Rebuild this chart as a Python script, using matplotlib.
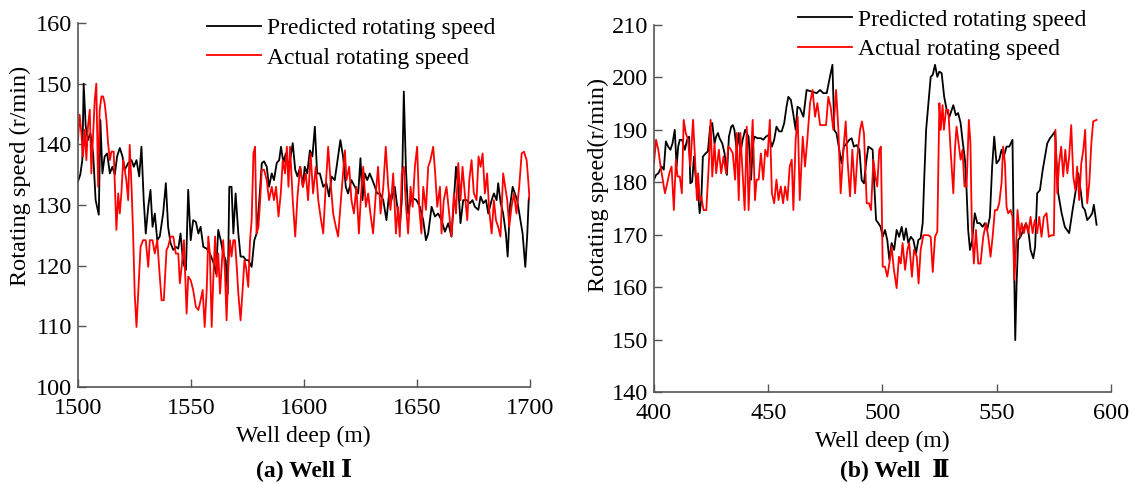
import matplotlib
matplotlib.use("Agg")
import matplotlib.pyplot as plt

plt.rcParams['font.family'] = ['Liberation Serif', 'DejaVu Serif']

# (a) Well I : (depth m, speed r/min)
pred_a = [(1500.0, 133.9), (1501.0, 135), (1501.9, 137.4), (1502.5, 150), (1503.4, 143), (1504.4, 140.7),
          (1505.5, 141.8), (1506.7, 138.5), (1507.8, 130.8), (1509.2, 128.4), (1509.9, 144), (1510.8, 135.2),
          (1511.8, 138), (1512.9, 138.5), (1514.1, 135.2), (1515.2, 136.3), (1516.3, 135), (1517.3, 138),
          (1518.5, 139.4), (1519.7, 138), (1520.7, 135.8), (1522.2, 136.9), (1523.7, 137.4), (1524.7, 136.3),
          (1525.9, 137.4), (1527.1, 134.7), (1528.1, 139.6), (1529.1, 130.8), (1530.0, 125.3), (1531.1, 129.7),
          (1532.1, 132.5), (1533.0, 126.4), (1534.0, 128.6), (1535.1, 124.2), (1536.2, 124.8), (1537.7, 128.6),
          (1538.9, 133.6), (1539.9, 126.4), (1541.0, 123.7), (1542.2, 122.6), (1543.3, 123.1), (1544.4, 122.8),
          (1545.4, 125.3), (1546.6, 120.4), (1547.8, 119.3), (1548.8, 132.5), (1549.9, 124.2), (1551.0, 127.5),
          (1552.2, 127.2), (1553.3, 125.3), (1554.3, 126.4), (1555.5, 123.1), (1557.0, 122.8), (1558.4, 122),
          (1559.9, 120.6), (1561.1, 118.7), (1562.1, 125.9), (1563.2, 124.2), (1564.3, 122), (1565.4, 120.9),
          (1566.3, 115.4), (1567.0, 133), (1568.0, 133), (1568.8, 125.3), (1569.8, 131.9), (1571.0, 125.3),
          (1572.0, 121.5), (1573.2, 121.5), (1574.4, 120.9), (1575.4, 120.9), (1576.9, 119.8), (1578.1, 124.2),
          (1579.1, 125.3), (1580.3, 130.8), (1581.4, 136.9), (1582.4, 137.2), (1583.6, 136.3), (1584.6, 133),
          (1585.8, 135.2), (1586.8, 134.1), (1588.0, 136.9), (1589.1, 137.4), (1589.9, 139.6), (1591.0, 136.9),
          (1592.0, 138.5), (1593.2, 136.3), (1594.2, 138), (1595.1, 140.2), (1596.2, 135.8), (1597.2, 134.7),
          (1598.4, 136.3), (1599.6, 133), (1600.4, 136.3), (1601.5, 135.2), (1602.7, 139), (1603.8, 138),
          (1604.9, 142.9), (1605.9, 135.2), (1607.1, 135.2), (1608.6, 133), (1610.0, 133.6), (1611.2, 131.4),
          (1612.3, 134.7), (1613.7, 134.1), (1615.2, 138), (1616.2, 140.7), (1617.4, 138), (1618.6, 133),
          (1619.6, 131.9), (1621.1, 134.1), (1622.6, 133), (1624.1, 131.9), (1625.1, 137.7), (1626.0, 130.8),
          (1627.0, 135.2), (1628.1, 134.1), (1629.2, 135.2), (1630.4, 134.1), (1631.5, 133), (1632.5, 131.9),
          (1633.7, 131.9), (1635.2, 130.8), (1636.6, 127.5), (1637.8, 131.9), (1638.8, 130.8), (1640.3, 133),
          (1641.4, 129.7), (1642.5, 126.2), (1643.4, 130.8), (1644.3, 148.7), (1645.2, 136.3), (1646.2, 128.6),
          (1647.3, 130.8), (1648.4, 131.1), (1649.9, 130.8), (1651.4, 129.7), (1652.9, 127.5), (1654.1, 124.2),
          (1655.1, 125.3), (1656.6, 129.7), (1658.1, 128.1), (1659.5, 128.6), (1661.0, 127.5), (1662.5, 125.6),
          (1664.0, 127), (1665.4, 124.8), (1666.5, 130.8), (1667.4, 136.3), (1668.4, 133), (1669.4, 127),
          (1670.6, 130.8), (1672.1, 130.8), (1673.6, 130.3), (1674.7, 130.8), (1675.8, 129.7), (1677.3, 129.2),
          (1678.3, 131.4), (1679.5, 130.3), (1680.7, 130.8), (1681.7, 128.6), (1683.2, 130.8), (1684.2, 131.9),
          (1685.4, 130.8), (1686.1, 133.6), (1687.2, 130.3), (1688.3, 128.6), (1689.5, 125.3), (1690.3, 121.5),
          (1691.3, 129.7), (1692.5, 133), (1693.5, 131.9), (1694.5, 130.8), (1695.7, 128.1), (1696.9, 125.3),
          (1698.1, 119.8), (1699.0, 125.3), (1699.6, 130.8), (1700.0, 131.4)]

actual_a = [(1500.0, 140.7), (1500.7, 144.9), (1501.5, 141.8), (1502.2, 138), (1503.0, 142.4), (1503.7, 137.4),
            (1504.4, 142.9), (1505.2, 145.7), (1505.9, 135.2), (1506.7, 141.8), (1507.4, 147.3), (1508.1, 150),
            (1508.9, 133), (1509.6, 145.7), (1510.4, 147.9), (1511.1, 147.9), (1511.8, 146.8), (1512.6, 144),
            (1513.3, 140.2), (1514.1, 137.4), (1514.8, 138.8), (1515.8, 138.8), (1517.0, 125.9), (1517.8, 131.9),
            (1518.5, 128.6), (1519.2, 131.9), (1520.0, 137.4), (1520.7, 135.8), (1521.4, 134.1), (1522.2, 130.8),
            (1522.9, 139.9), (1523.7, 133), (1524.4, 125.3), (1525.1, 115.4), (1525.9, 109.9), (1526.8, 116.5),
            (1527.7, 123.1), (1528.8, 124.2), (1530.0, 124.2), (1531.1, 119.8), (1531.8, 124.2), (1533.0, 124.2),
            (1534.0, 122), (1535.1, 124.2), (1535.9, 119.8), (1537.0, 114.3), (1538.0, 114.3), (1539.2, 122.6),
            (1539.9, 123.1), (1541.0, 124.8), (1542.2, 124.8), (1543.3, 122), (1544.4, 122), (1545.1, 117.1),
            (1545.9, 119.8), (1546.9, 124.2), (1548.1, 112.1), (1548.8, 118.2), (1549.9, 117.6), (1551.0, 116),
            (1552.2, 113.2), (1553.3, 112.7), (1554.3, 114.3), (1555.2, 116), (1556.1, 109.9), (1557.0, 116),
            (1557.7, 124.8), (1558.4, 122), (1559.2, 109.9), (1559.9, 117.6), (1560.7, 124.8), (1561.4, 118.2),
            (1562.1, 122), (1562.9, 115.4), (1563.6, 119.8), (1564.3, 124.2), (1565.1, 118.7), (1565.8, 111),
            (1566.6, 119.8), (1567.3, 124.2), (1568.0, 121.5), (1568.8, 124.2), (1569.5, 124.2), (1570.3, 119.8),
            (1571.0, 115.4), (1572.0, 111), (1572.9, 116), (1573.7, 120.9), (1574.4, 119.8), (1575.4, 116.5),
            (1576.2, 124.2), (1576.9, 127.5), (1577.7, 138.5), (1578.4, 139.6), (1579.1, 125.3), (1579.9, 126.4),
            (1580.6, 130.3), (1581.4, 135.8), (1582.4, 135.8), (1583.6, 134.1), (1584.6, 130.8), (1585.8, 133),
            (1586.8, 130.8), (1587.7, 133), (1588.8, 128.1), (1589.8, 131.9), (1590.7, 137.4), (1591.7, 135.2),
            (1592.5, 139.6), (1593.2, 133), (1593.9, 139.6), (1595.1, 130.8), (1596.2, 124.8), (1597.2, 131.4),
            (1598.4, 136.3), (1599.6, 133), (1600.9, 135.2), (1601.9, 130.8), (1603.0, 138.5), (1604.1, 131.9),
            (1605.3, 136.3), (1606.4, 130.8), (1607.4, 128.1), (1608.6, 125.3), (1609.7, 133), (1610.8, 139.6),
            (1611.8, 134.1), (1613.0, 128.6), (1614.2, 126.4), (1615.2, 124.8), (1616.2, 129.7), (1617.4, 135.2),
            (1618.2, 139), (1618.9, 134.1), (1620.1, 136.3), (1621.1, 130.8), (1622.2, 128.6), (1623.3, 133),
            (1624.4, 125.3), (1625.3, 131.4), (1626.3, 136.3), (1627.5, 129.7), (1628.5, 131.9), (1629.5, 128.6),
            (1630.7, 125.3), (1631.9, 131.9), (1632.9, 136.3), (1634.0, 128.6), (1635.2, 133), (1636.3, 139.6),
            (1637.4, 133), (1638.4, 129.2), (1639.6, 135.2), (1640.8, 125.3), (1641.7, 129.7), (1642.5, 124.8),
            (1643.4, 135.2), (1644.3, 136.3), (1645.2, 130.3), (1646.2, 125.3), (1647.3, 133), (1648.2, 129.7),
            (1649.2, 136.3), (1650.2, 139.6), (1651.1, 129.7), (1652.1, 125.3), (1652.9, 133), (1654.1, 129.2),
            (1655.1, 136.3), (1656.1, 137.4), (1657.3, 139.6), (1658.2, 135.2), (1659.1, 129.7), (1660.3, 133),
            (1661.0, 125.3), (1662.0, 130.8), (1663.2, 133), (1664.4, 128.6), (1665.4, 124.8), (1666.5, 131.9),
            (1667.4, 128.6), (1668.4, 136.9), (1669.4, 130.8), (1670.3, 136.3), (1671.3, 131.9), (1672.4, 127.5),
            (1673.3, 134.1), (1674.3, 137.4), (1675.3, 132), (1676.5, 130.8), (1677.4, 138), (1678.3, 136.3),
            (1679.2, 138.5), (1680.2, 131.9), (1681.2, 135.2), (1682.1, 129.2), (1683.2, 125.3), (1684.2, 130.8),
            (1685.1, 127.5), (1686.1, 126.4), (1687.1, 124.8), (1688.3, 135.2), (1689.2, 133), (1690.1, 130.8),
            (1691.0, 126.4), (1692.0, 129.7), (1693.1, 131.9), (1694.2, 128.6), (1695.4, 133), (1696.5, 138.5),
            (1697.5, 138.8), (1698.7, 137.4), (1699.4, 134.1), (1700.0, 130.8)]

# (b) Well II
pred_b = [(400.0, 180.5), (400.9, 181.4), (401.9, 181.7), (403.3, 183), (404.3, 182.4), (405.2, 187.8),
          (406.2, 186.8), (407.2, 186.2), (408.1, 187.4), (409.1, 190), (409.9, 183), (410.6, 186.8),
          (411.3, 188.1), (412.3, 188.1), (413.5, 186.2), (414.5, 188.1), (415.4, 188.7), (415.9, 179.8),
          (416.7, 180.1), (417.5, 184.9), (418.6, 179.2), (419.3, 177.9), (420.0, 174.1), (420.7, 176.6),
          (421.4, 184.9), (422.6, 185.5), (423.6, 185.9), (424.6, 190.6), (425.5, 191.3), (426.5, 187.4),
          (427.2, 188.7), (428.0, 189.4), (428.7, 188.4), (429.9, 187.4), (430.9, 185.5), (431.9, 181.4),
          (432.8, 188.7), (433.8, 190.6), (434.5, 190.9), (435.2, 190), (436.2, 186.2), (437.1, 189.4),
          (437.8, 185.5), (438.8, 188.1), (439.9, 190), (440.6, 189.4), (441.4, 188.7), (442.5, 180.5),
          (443.2, 186.8), (443.9, 188.7), (445.4, 188.4), (446.8, 188.4), (447.8, 188.1), (449.0, 188.7),
          (450.1, 189), (451.6, 186.8), (452.6, 188.1), (453.6, 190.6), (454.8, 189.7), (455.9, 189.7),
          (457.0, 191.3), (458.0, 194.4), (458.8, 196.3), (459.9, 195.7), (460.9, 193.2), (462.0, 190),
          (462.8, 194.4), (463.9, 194.1), (465.4, 192.5), (466.8, 197.6), (469.0, 197.3), (471.2, 197),
          (472.7, 197.6), (474.1, 197), (475.6, 197), (477.0, 200.1), (478.1, 202.4), (478.9, 190),
          (479.9, 189.3), (481.1, 186.2), (482.1, 183.6), (483.1, 186.8), (484.3, 187.4), (485.5, 188.1),
          (486.5, 188.4), (487.5, 186.8), (488.7, 187.1), (489.9, 186.2), (490.9, 180.4), (491.9, 179.8),
          (492.8, 183.6), (493.8, 186.8), (494.8, 186.5), (495.7, 186.2), (496.3, 180.4), (497.2, 172.8),
          (498.2, 172.2), (499.2, 171.5), (500.1, 169.6), (501.1, 170.9), (502.1, 169), (503.0, 165.2),
          (504.0, 168.4), (505.1, 167.1), (506.2, 170.9), (507.3, 169.6), (508.4, 171.5), (509.4, 169),
          (510.3, 171.2), (511.3, 168.4), (512.4, 169.6), (513.5, 169), (514.7, 166.5), (515.7, 169),
          (516.7, 169.3), (517.6, 172.2), (518.2, 179.8), (519.1, 190), (520.1, 195.1), (521.1, 200.1),
          (522.0, 200.5), (523.0, 202.4), (524.0, 200.1), (524.9, 201.1), (525.9, 200.8), (527.0, 196.3),
          (528.1, 193.8), (529.3, 192.5), (531.0, 194.7), (532.1, 192.8), (533.1, 193.2), (534.2, 191.3),
          (535.0, 188.1), (536.1, 184.3), (536.8, 178.5), (537.5, 170.9), (538.3, 167.1), (539.3, 169),
          (540.4, 174.1), (541.5, 172.2), (542.6, 172.2), (543.8, 171.5), (544.8, 172.2), (545.8, 170.9),
          (547.0, 173.4), (548.0, 183), (548.9, 188.7), (549.9, 183.6), (551.1, 184.3), (552.1, 186.2),
          (553.1, 184.9), (554.3, 186.8), (555.5, 186.8), (556.9, 188.1), (557.5, 167.1), (558.1, 149.9),
          (558.7, 160.7), (559.4, 169), (560.4, 169.6), (561.6, 170.9), (562.8, 172.2), (563.8, 170.9),
          (564.8, 167.1), (566.0, 165.5), (566.8, 167.7), (567.7, 177.9), (568.9, 178.5), (570.1, 182.3),
          (571.1, 184.9), (572.1, 187.4), (573.3, 188.4), (574.4, 189), (575.5, 189.7), (576.9, 177.9),
          (578.4, 174.1), (579.8, 171.5), (581.7, 170.3), (583.2, 174.7), (584.6, 178.5), (585.7, 181.7),
          (586.7, 178.5), (587.6, 175.3), (588.6, 174.7), (589.6, 172.8), (590.8, 173.4), (591.8, 174.1),
          (592.5, 175.7), (593.7, 171.9)]

actual_b = [(400.0, 183.6), (400.9, 188.1), (401.9, 186.2), (402.9, 183), (404.1, 179.8), (404.8, 177.9),
            (405.8, 179.8), (406.7, 181.7), (407.7, 183), (408.7, 174.7), (409.6, 184.3), (410.3, 181.1),
            (411.3, 181.1), (412.2, 177.9), (413.0, 191.9), (413.9, 189.4), (414.9, 188.1), (415.9, 183),
            (417.1, 191.9), (418.0, 184.3), (418.8, 176.6), (419.3, 181.7), (420.0, 176.6), (420.7, 177.3),
            (421.7, 174.7), (422.9, 174.7), (424.1, 184.3), (424.8, 191.9), (425.5, 181.1), (426.5, 187.4),
            (427.2, 181.7), (428.4, 186.2), (429.4, 181.7), (430.4, 184.9), (431.6, 181.7), (432.5, 186.8),
            (433.3, 186.5), (434.5, 185.5), (435.5, 180.5), (436.2, 189.4), (437.1, 176.6), (437.8, 189.4),
            (438.8, 181.7), (439.7, 174.7), (440.6, 190.6), (441.4, 174.7), (442.2, 183), (443.2, 191.9),
            (444.2, 176.6), (444.9, 180.5), (445.8, 180.5), (446.8, 185.5), (447.8, 180.5), (448.7, 186.2),
            (449.7, 184.9), (450.7, 191.9), (451.6, 177.9), (452.6, 176), (453.6, 180.5), (454.5, 176.6),
            (455.5, 179.2), (456.5, 176), (457.4, 179.2), (458.4, 176.6), (459.4, 183), (460.3, 184.3),
            (461.0, 174.7), (462.0, 188.1), (462.9, 192.5), (463.8, 176.6), (465.1, 188.7), (466.1, 183),
            (467.1, 188.1), (468.3, 195.1), (469.4, 197.6), (470.5, 192.5), (471.5, 195.1), (472.7, 190.9),
            (474.1, 190.9), (475.3, 190.9), (476.3, 196.3), (477.3, 194.4), (478.5, 190), (479.7, 197.6),
            (480.7, 190), (481.7, 177.9), (482.9, 186.2), (483.9, 191.6), (484.8, 183.6), (485.8, 177.3),
            (486.8, 186.2), (488.0, 177.9), (489.0, 184.9), (490.2, 190), (491.0, 191.6), (491.9, 189.3),
            (493.1, 176), (494.1, 176), (495.0, 174.7), (496.0, 184.3), (496.9, 181.1), (497.7, 179.2),
            (498.6, 186.2), (499.3, 186.8), (500.1, 163.9), (501.1, 163.9), (502.1, 162), (503.0, 164.5),
            (504.0, 167.7), (505.0, 163.3), (506.2, 159.8), (507.2, 165.8), (508.0, 164.5), (508.8, 168.4),
            (509.9, 163.3), (510.9, 167.1), (511.7, 168.4), (512.9, 162), (513.8, 167.1), (515.0, 165.8),
            (515.8, 160.7), (516.7, 167.1), (517.9, 169.9), (519.0, 169.9), (520.1, 169.9), (521.1, 169.6),
            (522.0, 162.9), (523.0, 169.6), (524.0, 170.6), (524.9, 195.1), (525.5, 190), (526.3, 194.7),
            (526.9, 190), (527.8, 193.8), (528.8, 193.8), (529.8, 186.2), (531.0, 177.9), (531.7, 186.2),
            (532.4, 190.6), (533.3, 187.4), (534.2, 184.3), (535.0, 186.2), (535.9, 179.2), (536.8, 179.2),
            (537.8, 191.9), (538.5, 187.4), (539.1, 171.5), (540.0, 164.5), (540.9, 170.9), (541.9, 164.5),
            (542.9, 164.5), (544.1, 169.6), (545.3, 172.2), (546.3, 169.6), (547.3, 165.8), (548.2, 169.6),
            (549.2, 174.7), (550.2, 174.7), (551.1, 176), (552.1, 179.8), (552.8, 186.8), (553.6, 183.6),
            (554.3, 175.3), (555.0, 174.1), (556.1, 174.7), (556.9, 173.4), (557.7, 161.4), (558.4, 167.1),
            (559.1, 174.7), (560.1, 169.6), (560.9, 172.2), (561.9, 170.3), (562.8, 172.2), (563.8, 170.3),
            (564.8, 173.4), (565.7, 170.3), (566.7, 172.8), (567.7, 170.3), (568.6, 173.4), (569.6, 169.6),
            (570.6, 173.4), (571.8, 174.1), (572.8, 169.6), (574.0, 169.9), (575.0, 169.9), (575.7, 190),
            (576.5, 177.9), (577.3, 183.6), (578.2, 186.8), (579.1, 181.1), (580.0, 186.2), (580.9, 181.7),
            (581.7, 184.9), (582.6, 190.9), (583.5, 181.1), (584.4, 178.5), (585.2, 183), (586.1, 176.6),
            (587.0, 183.6), (587.9, 186.2), (588.7, 190), (589.6, 176), (590.5, 179.8), (591.4, 187.4),
            (592.2, 191.6), (593.7, 191.9)]

fig = plt.figure(figsize=(11.34, 4.84), dpi=100)
ax1 = fig.add_axes([0.0688, 0.2004, 0.3982, 0.7521])
ax2 = fig.add_axes([0.5767, 0.1901, 0.4030, 0.7583])


def draw(ax, pred, actual, xlim, ylim, xticks, yticks):
    ax.plot([p[0] for p in pred], [p[1] for p in pred], color='black', lw=1.3,
            label='Predicted rotating speed')
    ax.plot([p[0] for p in actual], [p[1] for p in actual], color='#ff0000', lw=1.3,
            label='Actual rotating speed')
    ax.set_xlim(*xlim)
    ax.set_ylim(*ylim)
    ax.set_xticks(xticks)
    ax.set_yticks(yticks)
    for s in ['top', 'right']:
        ax.spines[s].set_visible(False)
    for s in ['left', 'bottom']:
        ax.spines[s].set_color('#555555')
        ax.spines[s].set_linewidth(1.2)
    ax.tick_params(direction='in', length=5.5, width=1.0, color='#555555', labelsize=17.5)
    ax.tick_params(axis='x', pad=8)
    ax.tick_params(axis='y', pad=4)
    ax.set_xlabel('Well deep (m)', fontsize=17, labelpad=5)
    ax.legend(loc='upper left', frameon=False, fontsize=17, handlelength=2.3,
              handletextpad=0.25, labelspacing=0.33, borderpad=0, borderaxespad=0)


draw(ax1, pred_a, actual_a, (1500, 1700), (100, 160),
     [1500, 1550, 1600, 1650, 1700], [100, 110, 120, 130, 140, 150, 160])
ax1.set_ylabel('Rotating speed (r/min)', fontsize=17.5)
ax1.yaxis.set_label_coords(-0.104, 0.58)
ax1.get_legend().set_bbox_to_anchor((0.1825, 0.963), transform=fig.transFigure)

draw(ax2, pred_b, actual_b, (400, 600), (140, 210),
     [400, 450, 500, 550, 600], [140, 150, 160, 170, 180, 190, 200, 210])
ax2.set_ylabel('Rotating speed(r/min)', fontsize=17.5)
ax2.yaxis.set_label_coords(-0.098, 0.564)
ax2.get_legend().set_bbox_to_anchor((0.7037, 0.981), transform=fig.transFigure)

fig.text(0.268, 0.029, '(a) Well Ⅰ', ha='center', va='center', fontsize=17, fontweight='bold')
fig.text(0.789, 0.029, '(b) Well  Ⅱ', ha='center', va='center', fontsize=17, fontweight='bold')

fig.savefig('out.png', dpi=100)
